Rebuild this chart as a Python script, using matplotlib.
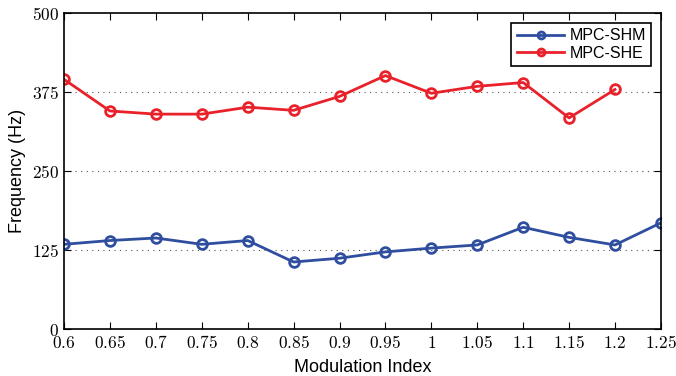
import numpy as np
import matplotlib.pyplot as plt
from matplotlib.ticker import FuncFormatter

plt.rcParams['mathtext.fontset'] = 'cm'

mod_index = [0.6, 0.65, 0.7, 0.75, 0.8, 0.85, 0.9, 0.95, 1.0, 1.05, 1.1, 1.15, 1.2, 1.25]
shm = [134, 140, 144, 134, 140, 106, 112, 122, 128, 133, 161, 145, 133, 168]
she = [395, 345, 340, 340, 351, 346, 368, 401, 373, 384, 390, 334, 379]
xticks = [0.6, 0.65, 0.7, 0.75, 0.8, 0.85, 0.9, 0.95, 1, 1.05, 1.1, 1.15, 1.2, 1.25]
yticks = [0, 125, 250, 375, 500]

blue = '#2f4e9f'
red = '#e8212a'

fig = plt.figure(figsize=(6.76, 3.76), dpi=100)
ax = fig.add_axes([0.0947, 0.125, 0.883, 0.8404])

ax.plot(mod_index, shm, color=blue, lw=2, marker='o', ms=7, mfc='none',
        mew=2, label='MPC-SHM')
ax.plot(mod_index[:len(she)], she, color=red, lw=2, marker='o', ms=7, mfc='none',
        mew=2, label='MPC-SHE')

ax.set_xlim(0.6, 1.25)
ax.set_ylim(0, 500)
ax.set_xticks(xticks)
ax.set_yticks(yticks)
fmt = FuncFormatter(lambda v, p: '$%g$' % round(v, 2))
ax.xaxis.set_major_formatter(fmt)
ax.yaxis.set_major_formatter(fmt)
ax.tick_params(direction='in', top=True, right=True, labelsize=12.5, length=5)
for s in ax.spines.values():
    s.set_linewidth(1.2)

for g in [125, 250, 375]:
    ax.axhline(g, color='#555555', lw=0.8, ls=(0, (1, 4)), zorder=0)

ax.set_xlabel('Modulation Index', family='Liberation Sans', fontsize=13, labelpad=5)
ax.set_ylabel('Frequency (Hz)', family='Liberation Sans', fontsize=13)

leg = ax.legend(loc='upper right', prop={'family': 'Liberation Sans', 'size': 11.5},
                fancybox=False, edgecolor='black', framealpha=1,
                borderaxespad=0.6, handlelength=3, labelspacing=0.15,
                borderpad=0.35, handletextpad=0.3)
leg.get_frame().set_linewidth(1.2)
for h in leg.legend_handles:
    h.set_markersize(5)

fig.savefig('out.png', dpi=100)
